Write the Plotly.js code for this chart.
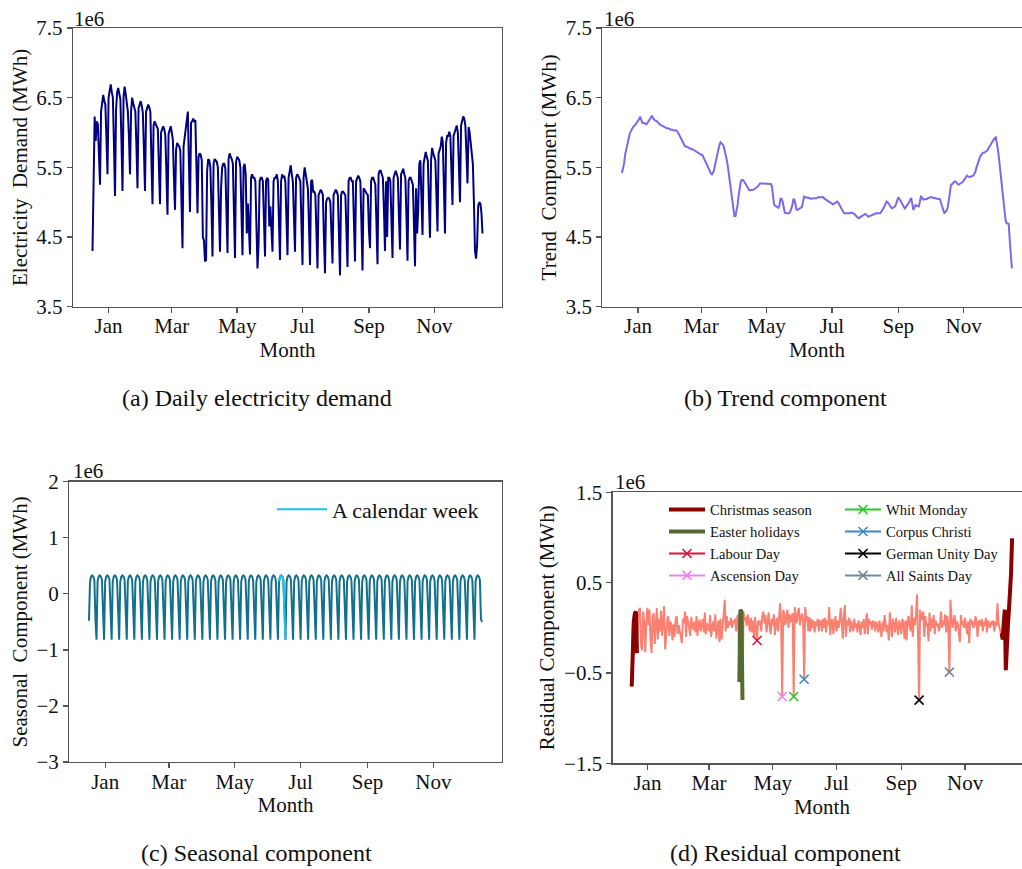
<!DOCTYPE html>
<html><head><meta charset="utf-8">
<script src="https://cdn.plot.ly/plotly-3.0.1.min.js"></script>
<style>html,body{margin:0;padding:0;overflow:hidden;background:#fff}#chart{width:1040px;height:869px}</style>
</head><body><div id="chart"></div>
<script>
// ---------- data ----------
const startDate = [2016, 11, 17];   // first day of the series (as plotted)
const nDays = 365;
const monthTickDates = ['2017-01-01','2017-03-01','2017-05-01','2017-07-01','2017-09-01','2017-11-01'];
const monthTickLabels = ['Jan','Mar','May','Jul','Sep','Nov'];

// daily electricity demand (1e6 MWh)
const demand = [4.30,
5.78,6.23,5.88,6.16,6.12,5.62,5.25,
6.30,6.45,6.54,6.45,6.40,5.92,5.40,
6.50,6.62,6.69,6.58,6.50,5.85,5.09,
6.33,6.58,6.64,6.55,6.48,5.90,5.16,
6.52,6.66,6.55,6.45,6.30,5.95,5.40,
6.30,6.50,6.42,6.33,6.30,5.80,5.20,
6.35,6.40,6.45,6.38,6.28,5.75,5.16,
6.30,6.37,6.40,6.36,6.30,5.60,4.97,
6.10,6.16,6.12,6.09,6.05,5.50,4.97,
6.00,6.05,6.09,6.05,5.95,5.40,4.82,
5.98,6.02,6.09,6.00,5.90,5.35,4.89,
5.75,5.85,5.82,5.80,5.73,5.20,4.34,
5.80,5.95,6.05,6.15,6.30,5.55,4.86,
6.14,6.16,6.20,6.15,6.18,5.45,4.84,
5.65,5.70,5.68,5.60,4.50,4.45,4.15,
4.17,5.45,5.62,5.60,5.50,4.95,4.22,
5.55,5.62,5.60,5.58,5.50,4.95,4.29,
5.20,5.50,5.55,5.55,5.48,4.90,4.27,
5.62,5.70,5.65,5.62,5.55,4.90,4.20,
5.58,5.65,5.63,5.60,5.50,4.80,4.24,
5.50,5.55,5.40,4.55,4.98,4.70,4.25,
5.35,5.40,5.35,5.35,5.30,4.70,4.05,
4.40,5.30,5.35,5.35,5.30,4.70,4.22,
5.30,5.35,5.32,4.65,4.94,4.60,4.29,
5.30,5.35,5.35,5.40,5.30,4.70,4.17,
5.30,5.40,5.35,5.38,5.30,4.75,4.24,
5.35,5.42,5.53,5.40,5.30,4.80,4.29,
5.35,5.40,5.38,5.35,5.30,4.70,4.10,
5.35,5.50,5.40,5.30,5.20,4.70,4.10,
5.30,5.32,5.15,5.15,5.10,4.60,4.05,
5.10,5.15,5.18,5.15,5.10,4.50,3.98,
5.00,5.05,5.06,5.05,5.00,4.55,4.12,
5.10,5.15,5.18,5.15,5.10,4.55,3.95,
5.10,5.15,5.15,5.12,5.10,4.60,4.07,
5.30,5.35,5.35,5.30,5.30,4.75,4.15,
5.30,5.35,5.38,5.35,5.30,4.70,4.02,
5.20,5.18,5.15,5.12,5.10,4.60,4.34,
5.30,5.35,5.35,5.30,5.25,4.70,4.11,
5.40,5.45,5.45,5.40,5.35,4.90,4.30,
5.30,4.50,5.35,5.35,5.30,4.75,4.20,
5.35,5.40,5.45,5.40,5.35,4.80,4.32,
5.40,5.45,5.48,5.40,5.35,4.80,4.16,
5.30,5.35,5.35,5.30,5.25,4.70,4.08,
5.20,4.55,4.90,5.55,5.60,5.00,4.53,
5.55,5.65,5.72,5.65,5.60,5.00,4.49,
5.60,5.78,5.70,5.65,5.60,5.10,4.58,
5.70,5.75,5.80,5.94,5.85,5.20,4.55,
5.85,5.95,5.95,6.01,5.95,5.50,4.96,
5.95,6.00,6.05,6.10,6.00,5.50,5.00,
6.10,6.20,6.23,6.20,6.10,5.70,5.27,
6.08,6.00,5.85,5.70,5.55,5.00,4.30,
4.19,4.40,4.95,5.00,4.98,4.85,4.55];

// trend component (1e6 MWh)
const trend = [
5.42,5.47,5.55,5.68,5.76,5.84,5.91,5.96,6.01,6.04,
6.07,6.09,6.10,6.12,6.14,6.16,6.19,6.23,6.19,6.14,
6.14,6.13,6.12,6.12,6.14,6.17,6.20,6.22,6.24,6.21,
6.18,6.17,6.17,6.16,6.14,6.12,6.11,6.10,6.09,6.08,
6.07,6.07,6.06,6.06,6.05,6.05,6.04,6.04,6.03,6.03,
6.03,6.03,6.01,5.98,5.95,5.92,5.89,5.85,5.81,5.80,
5.80,5.79,5.79,5.78,5.77,5.76,5.76,5.75,5.74,5.73,
5.71,5.70,5.70,5.69,5.68,5.68,5.65,5.62,5.59,5.56,
5.53,5.49,5.45,5.41,5.40,5.42,5.46,5.54,5.62,5.70,
5.77,5.82,5.86,5.85,5.83,5.80,5.74,5.67,5.60,5.50,
5.38,5.24,5.10,4.96,4.84,4.80,4.80,4.86,4.96,5.10,
5.20,5.30,5.32,5.32,5.30,5.27,5.24,5.21,5.18,5.17,
5.17,5.17,5.17,5.18,5.19,5.20,5.21,5.23,5.25,5.27,
5.27,5.27,5.27,5.27,5.27,5.27,5.27,5.27,5.27,5.26,
5.23,5.12,4.97,4.95,4.94,4.93,4.92,4.95,5.05,5.05,
5.01,4.93,4.85,4.84,4.84,4.84,4.84,4.86,4.90,4.95,
5.04,5.04,4.97,4.89,4.89,4.90,4.91,4.92,4.93,5.00,
5.08,5.07,5.07,5.06,5.06,5.06,5.05,5.05,5.05,5.05,
5.05,5.06,5.06,5.07,5.07,5.08,5.08,5.08,5.07,5.05,
5.04,5.03,5.01,5.00,4.99,4.98,4.98,4.97,4.98,4.99,
5.00,5.01,4.99,4.96,4.93,4.90,4.87,4.85,4.84,4.84,
4.83,4.83,4.84,4.84,4.85,4.85,4.84,4.83,4.81,4.79,
4.78,4.77,4.78,4.79,4.80,4.81,4.82,4.83,4.82,4.80,
4.79,4.80,4.80,4.81,4.82,4.82,4.83,4.84,4.84,4.84,
4.84,4.84,4.86,4.88,4.91,4.94,4.97,5.01,5.00,4.98,
4.96,4.93,4.91,4.92,4.93,4.94,4.98,5.03,5.07,5.05,
5.02,4.99,4.96,4.93,4.91,4.93,4.95,4.97,5.00,5.03,
5.06,4.98,4.89,4.92,4.96,4.95,4.94,4.94,5.00,5.08,
5.07,5.04,5.04,5.04,5.04,5.05,5.06,5.07,5.07,5.07,
5.06,5.06,5.06,5.05,5.05,5.05,5.04,5.04,4.98,4.93,
4.88,4.84,4.86,4.88,4.92,5.00,5.12,5.24,5.26,5.28,
5.29,5.30,5.29,5.27,5.25,5.26,5.27,5.27,5.29,5.31,
5.34,5.36,5.38,5.37,5.36,5.36,5.37,5.38,5.38,5.41,
5.44,5.50,5.56,5.60,5.64,5.67,5.69,5.71,5.71,5.72,
5.72,5.74,5.77,5.79,5.82,5.85,5.88,5.91,5.92,5.93,
5.86,5.75,5.62,5.46,5.30,5.13,5.00,4.85,4.75,4.70,
4.69,4.69,4.45,4.25,4.05];

// seasonal component (1e6 MWh)
const seasonal = [-0.48,
0.22,0.31,0.33,0.31,0.25,-0.45,-0.82, 0.22,0.31,0.33,0.31,0.25,-0.45,-0.82,
0.22,0.31,0.33,0.31,0.25,-0.45,-0.82, 0.22,0.31,0.33,0.31,0.25,-0.45,-0.82,
0.22,0.31,0.33,0.31,0.25,-0.45,-0.82, 0.22,0.31,0.33,0.31,0.25,-0.45,-0.82,
0.22,0.31,0.33,0.31,0.25,-0.45,-0.82, 0.22,0.31,0.33,0.31,0.25,-0.45,-0.82,
0.22,0.31,0.33,0.31,0.25,-0.45,-0.82, 0.22,0.31,0.33,0.31,0.25,-0.45,-0.82,
0.22,0.31,0.33,0.31,0.25,-0.45,-0.82, 0.22,0.31,0.33,0.31,0.25,-0.45,-0.82,
0.22,0.31,0.33,0.31,0.25,-0.45,-0.82, 0.22,0.31,0.33,0.31,0.25,-0.45,-0.82,
0.22,0.31,0.33,0.31,0.25,-0.45,-0.82, 0.22,0.31,0.33,0.31,0.25,-0.45,-0.82,
0.22,0.31,0.33,0.31,0.25,-0.45,-0.82, 0.22,0.31,0.33,0.31,0.25,-0.45,-0.82,
0.22,0.31,0.33,0.31,0.25,-0.45,-0.82, 0.22,0.31,0.33,0.31,0.25,-0.45,-0.82,
0.22,0.31,0.33,0.31,0.25,-0.45,-0.82, 0.22,0.31,0.33,0.31,0.25,-0.45,-0.82,
0.22,0.31,0.33,0.31,0.25,-0.45,-0.82, 0.22,0.31,0.33,0.31,0.25,-0.45,-0.82,
0.22,0.31,0.33,0.31,0.25,-0.45,-0.82, 0.22,0.31,0.33,0.31,0.25,-0.45,-0.82,
0.22,0.31,0.33,0.31,0.25,-0.45,-0.82, 0.22,0.31,0.33,0.31,0.25,-0.45,-0.82,
0.22,0.31,0.33,0.31,0.25,-0.45,-0.82, 0.22,0.31,0.33,0.31,0.25,-0.45,-0.82,
0.22,0.31,0.33,0.31,0.25,-0.45,-0.82, 0.22,0.31,0.33,0.31,0.25,-0.45,-0.82,
0.22,0.31,0.33,0.31,0.25,-0.45,-0.82, 0.22,0.31,0.33,0.31,0.25,-0.45,-0.82,
0.22,0.31,0.33,0.31,0.25,-0.45,-0.82, 0.22,0.31,0.33,0.31,0.25,-0.45,-0.82,
0.22,0.31,0.33,0.31,0.25,-0.45,-0.82, 0.22,0.31,0.33,0.31,0.25,-0.45,-0.82,
0.22,0.31,0.33,0.31,0.25,-0.45,-0.82, 0.22,0.31,0.33,0.31,0.25,-0.45,-0.82,
0.22,0.31,0.33,0.31,0.25,-0.45,-0.82, 0.22,0.31,0.33,0.31,0.25,-0.45,-0.82,
0.22,0.31,0.33,0.31,0.25,-0.45,-0.82, 0.22,0.31,0.33,0.31,0.25,-0.45,-0.82,
0.22,0.31,0.33,0.31,0.25,-0.45,-0.82, 0.22,0.31,0.33,0.31,0.25,-0.45,-0.82,
0.22,0.31,0.33,0.31,0.25,-0.45,-0.82, 0.22,0.31,0.33,0.31,0.25,-0.45,-0.82,
0.22,0.31,0.33,0.31,0.25,-0.45,-0.82, 0.22,0.31,0.33,0.31,0.25,-0.45,-0.82,
0.22,0.31,0.33,0.31,0.25,-0.45,-0.82, 0.22,0.31,0.33,0.31,0.25,-0.45,-0.50];

// residual component (1e6 MWh)
const residual = [
-0.65,0.03,0.07,0.16,0.18,-0.28,0.02,0.20,0.22,-0.20,
-0.25,0.18,0.04,-0.27,0.09,0.22,0.03,0.20,-0.14,-0.28,
0.13,0.16,-0.18,0.08,0.22,-0.13,0.10,-0.04,0.19,-0.09,
0.08,0.24,-0.24,0.00,0.09,0.13,-0.09,0.07,0.02,-0.14,
0.04,-0.10,0.09,0.13,-0.07,0.03,-0.04,-0.10,-0.17,0.10,
0.05,0.18,-0.10,0.13,0.08,0.00,-0.09,0.12,0.02,-0.02,
0.07,-0.05,0.13,-0.09,0.05,0.09,-0.04,0.03,0.10,-0.05,
0.17,-0.07,0.05,0.02,-0.04,0.14,-0.10,0.00,0.07,-0.04,
0.15,-0.12,0.03,0.08,-0.16,0.10,-0.13,0.08,0.15,0.31,
-0.04,0.13,0.00,0.07,0.03,0.11,0.00,0.08,0.05,0.10,
-0.04,0.12,0.15,-0.60,0.20,0.18,-0.80,0.18,0.08,0.12,
0.02,0.15,0.03,-0.04,0.11,-0.05,0.08,-0.10,0.12,-0.07,
-0.14,0.08,0.03,0.08,-0.04,0.14,0.18,0.05,0.14,-0.05,
0.08,0.17,0.02,-0.07,0.10,0.03,0.15,-0.08,0.05,0.11,
-0.04,0.12,0.27,0.07,-0.76,0.20,0.15,0.03,0.13,0.20,
0.00,0.15,0.06,0.12,0.16,-0.76,0.23,0.12,0.05,0.18,
0.22,0.03,0.13,0.16,0.08,-0.57,0.23,0.08,0.13,-0.04,
0.12,-0.04,0.10,0.00,0.08,-0.05,0.07,0.02,0.10,-0.04,
0.08,0.07,-0.04,0.10,0.00,0.11,-0.05,0.08,0.03,0.23,
-0.08,0.07,0.10,-0.07,0.05,0.13,-0.04,0.08,0.00,0.08,
0.22,0.03,-0.12,0.15,0.25,-0.10,0.08,0.03,0.11,-0.05,
0.08,0.02,-0.04,0.10,0.00,0.05,-0.05,0.08,0.03,-0.08,
0.07,0.00,0.10,-0.07,0.05,0.16,-0.07,0.10,0.03,0.07,
-0.02,0.08,0.05,-0.04,0.07,0.03,-0.05,0.08,0.00,-0.10,
0.07,-0.04,0.14,0.05,-0.05,0.03,-0.14,0.17,0.06,-0.10,
0.10,0.03,-0.05,0.11,0.00,-0.08,0.08,0.03,-0.07,0.10,
0.05,-0.12,0.08,-0.14,0.07,0.13,0.02,-0.04,0.25,-0.10,
0.11,0.03,0.14,0.37,-0.10,-0.80,0.20,0.08,0.14,0.18,
-0.10,0.13,0.02,0.05,-0.15,0.17,-0.04,0.10,0.00,0.14,
-0.07,0.08,0.02,0.05,-0.04,0.03,0.18,0.00,0.08,0.03,
0.15,-0.05,0.13,0.03,-0.49,0.31,0.12,0.00,0.08,0.14,
-0.04,0.07,0.05,-0.10,-0.16,0.14,0.03,0.08,0.00,0.11,
0.02,-0.07,0.07,-0.17,0.10,0.03,0.08,0.00,0.03,0.13,
0.05,-0.10,0.07,0.08,0.02,0.10,-0.04,0.07,0.02,0.11,
-0.05,0.08,0.03,0.00,0.07,0.03,0.08,-0.04,0.07,0.02,
0.27,0.05,0.00,-0.05,-0.06,-0.13,0.05,0.20,-0.47,-0.02,
0.02,0.20,0.38,0.60,0.99];

// special periods (day indices into the series)
const calendarWeek = [176, 182];
const christmasPeriods = [[0, 5], [354, 364]];
const easterPeriod = [103, 106];
const holidayNames = ['Labour Day','Ascension Day','Whit Monday','Corpus Christi','German Unity Day','All Saints Day'];
const holidayIndex = [120, 144, 155, 165, 275, 304];

// ---------- styles ----------
const FONT = 'Liberation Serif, Times New Roman, serif';
const holidayColors = ['#DC143C','#EE82EE','#22CC22','#3A87C8','#000000','#778899'];
const holidayLegend = ['legend2','legend2','legend3','legend3','legend3','legend3'];

// ---------- build ----------
const dates = [];
const t0 = Date.UTC(startDate[0], startDate[1], startDate[2]);
for (let i = 0; i < nDays; i++) dates.push(new Date(t0 + i * 86400000).toISOString().slice(0, 10));

function slice(arr, a, b) { return arr.slice(a, b + 1); }

const traces = [];
traces.push({x: dates, y: demand, xaxis: 'x', yaxis: 'y', mode: 'lines', line: {color: '#000080', width: 2}, showlegend: false});
traces.push({x: dates, y: trend, xaxis: 'x2', yaxis: 'y2', mode: 'lines', line: {color: '#7B68EE', width: 2}, showlegend: false});
traces.push({x: dates, y: seasonal, xaxis: 'x3', yaxis: 'y3', mode: 'lines', line: {color: '#12708C', width: 2}, showlegend: false});
traces.push({x: slice(dates, calendarWeek[0], calendarWeek[1]), y: slice(seasonal, calendarWeek[0], calendarWeek[1]),
  xaxis: 'x3', yaxis: 'y3', mode: 'lines', line: {color: '#1CC2E6', width: 2}, name: 'A calendar week', legend: 'legend'});
traces.push({x: dates, y: residual, xaxis: 'x4', yaxis: 'y4', mode: 'lines', line: {color: '#FA8072', width: 2}, showlegend: false});

// Christmas season: two periods in one trace, separated by a gap
const cx = [], cy = [];
christmasPeriods.forEach((p, k) => {
  if (k > 0) { cx.push(null); cy.push(null); }
  cx.push(...slice(dates, p[0], p[1])); cy.push(...slice(residual, p[0], p[1]));
});
traces.push({x: cx, y: cy, xaxis: 'x4', yaxis: 'y4', mode: 'lines', line: {color: '#8B0000', width: 4}, name: 'Christmas season', legend: 'legend2', connectgaps: false});
traces.push({x: slice(dates, easterPeriod[0], easterPeriod[1]), y: slice(residual, easterPeriod[0], easterPeriod[1]),
  xaxis: 'x4', yaxis: 'y4', mode: 'lines', line: {color: '#556B2F', width: 4}, name: 'Easter holidays', legend: 'legend2'});
holidayNames.forEach((nm, i) => {
  traces.push({x: [dates[holidayIndex[i]]], y: [residual[holidayIndex[i]]], xaxis: 'x4', yaxis: 'y4',
    mode: 'lines+markers', name: nm, legend: holidayLegend[i],
    line: {color: holidayColors[i], width: 2},
    marker: {symbol: 'x-thin', size: 9, color: holidayColors[i], line: {color: holidayColors[i], width: 1.6}}});
});

const W = 1040, H = 869;
const px = v => v / W, py = v => 1 - v / H;
const xRange = ['2016-11-28 19:12', '2018-01-03 04:48'];
const tickFont = {family: FONT, size: 21, color: '#111'};
const titleFont = {family: FONT, size: 21, color: '#111'};
function xAxis(dom, anchor) {
  return {domain: dom, anchor: anchor, type: 'date', range: xRange, tickvals: monthTickDates, ticktext: monthTickLabels,
    showline: true, mirror: true, linecolor: '#555', linewidth: 1.3, ticks: 'outside', ticklen: 5, tickwidth: 1.3, tickcolor: '#555',
    ticklabelstandoff: -5,
    showgrid: false, zeroline: false, tickfont: tickFont, title: {text: 'Month', font: titleFont, standoff: 2}};
}
function yAxis(dom, anchor, range, tick0, title) {
  return {domain: dom, anchor: anchor, range: range, tick0: tick0, dtick: 1, tickmode: 'linear',
    showline: true, mirror: true, linecolor: '#555', linewidth: 1.3, ticks: 'outside', ticklen: 5, tickwidth: 1.3, tickcolor: '#555',
    showgrid: false, zeroline: false, tickfont: tickFont, title: {text: title, font: titleFont, standoff: 3}};
}
const yA = [py(306.7), py(28)], yC = [py(762), py(481.7)], yD = [py(763.3), py(492.3)];
const capFont = {family: FONT, size: 24, color: '#111'};
const layout = {
  width: W, height: H, margin: {l: 0, r: 0, t: 0, b: 0}, paper_bgcolor: '#fff', plot_bgcolor: '#fff',
  font: {family: FONT, color: '#111'},
  xaxis: xAxis([px(73), px(502)], 'y'),
  yaxis: yAxis(yA, 'x', [3.5, 7.5], 3.5, 'Electricity\u00a0\u00a0Demand (MWh)'),
  xaxis2: xAxis([px(602.4), px(1031.4)], 'y2'),
  yaxis2: yAxis(yA, 'x2', [3.5, 7.5], 3.5, 'Trend\u00a0\u00a0Component (MWh)'),
  xaxis3: xAxis([px(69.3), px(501.7)], 'y3'),
  yaxis3: yAxis(yC, 'x3', [-3, 2], -3, 'Seasonal\u00a0\u00a0Component (MWh)'),
  xaxis4: xAxis([px(612.7), px(1031.1)], 'y4'),
  yaxis4: yAxis(yD, 'x4', [-1.5, 1.5], -1.5, 'Residual Component (MWh)'),
  legend: {x: px(272), xanchor: 'left', y: py(488.5), yanchor: 'top', bgcolor: 'rgba(0,0,0,0)', borderwidth: 0,
    font: {family: FONT, size: 22, color: '#111'}, itemwidth: 50},
  legend2: {x: px(664), xanchor: 'left', y: py(493.5), yanchor: 'top', bgcolor: 'rgba(0,0,0,0)', borderwidth: 0,
    font: {family: FONT, size: 14.6, color: '#111'}, itemwidth: 36, traceorder: 'normal'},
  legend3: {x: px(840), xanchor: 'left', y: py(493.5), yanchor: 'top', bgcolor: 'rgba(0,0,0,0)', borderwidth: 0,
    font: {family: FONT, size: 14.6, color: '#111'}, itemwidth: 36, traceorder: 'normal'},
  annotations: [
    {text: '1e6', xref: 'paper', yref: 'paper', x: px(72), y: py(19), xanchor: 'left', yanchor: 'middle', showarrow: false, font: titleFont},
    {text: '1e6', xref: 'paper', yref: 'paper', x: px(602), y: py(19), xanchor: 'left', yanchor: 'middle', showarrow: false, font: titleFont},
    {text: '1e6', xref: 'paper', yref: 'paper', x: px(70.5), y: py(471), xanchor: 'left', yanchor: 'middle', showarrow: false, font: titleFont},
    {text: '1e6', xref: 'paper', yref: 'paper', x: px(613), y: py(482), xanchor: 'left', yanchor: 'middle', showarrow: false, font: titleFont},
    {text: '(a) Daily electricity demand', xref: 'paper', yref: 'paper', x: px(256.7), y: py(398), xanchor: 'center', yanchor: 'middle', showarrow: false, font: capFont},
    {text: '(b) Trend component', xref: 'paper', yref: 'paper', x: px(785), y: py(398), xanchor: 'center', yanchor: 'middle', showarrow: false, font: capFont},
    {text: '(c) Seasonal component', xref: 'paper', yref: 'paper', x: px(256.3), y: py(852.7), xanchor: 'center', yanchor: 'middle', showarrow: false, font: capFont},
    {text: '(d) Residual component', xref: 'paper', yref: 'paper', x: px(785), y: py(852.7), xanchor: 'center', yanchor: 'middle', showarrow: false, font: capFont}
  ]
};
Plotly.newPlot('chart', traces, layout, {displayModeBar: false, staticPlot: true});
</script>
</body></html>
